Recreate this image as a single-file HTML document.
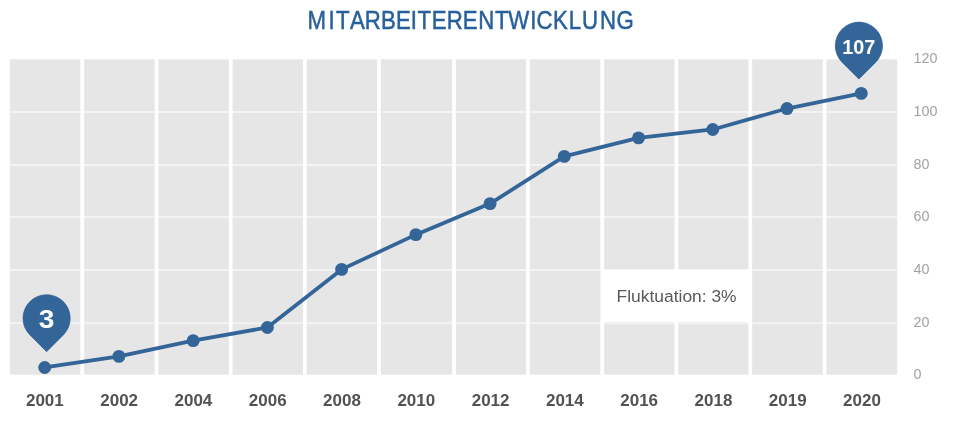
<!DOCTYPE html>
<html lang="de">
<head>
<meta charset="utf-8">
<title>Mitarbeiterentwicklung</title>
<style>
html,body{margin:0;padding:0;background:#fff;}
body{width:960px;height:426px;overflow:hidden;font-family:"Liberation Sans",sans-serif;}
svg{display:block;}
text{font-family:"Liberation Sans",sans-serif;}
</style>
</head>
<body>
<svg width="960" height="426" viewBox="0 0 960 426">
<rect x="0" y="0" width="960" height="426" fill="#ffffff"/>
<rect x="9.9" y="59.35" width="887.30" height="315.35" fill="#E6E6E6"/>
<g stroke="#F3F3F3" stroke-width="2">
<line x1="9.9" x2="897.2" y1="112" y2="112"/>
<line x1="9.9" x2="897.2" y1="165" y2="165"/>
<line x1="9.9" x2="897.2" y1="217" y2="217"/>
<line x1="9.9" x2="897.2" y1="270" y2="270"/>
<line x1="9.9" x2="897.2" y1="323.3" y2="323.3"/>
</g>
<g stroke="#ffffff" stroke-width="3.7">
<line x1="82.25" x2="82.25" y1="58.35" y2="375.7"/>
<line x1="156.5" x2="156.5" y1="58.35" y2="375.7"/>
<line x1="230.75" x2="230.75" y1="58.35" y2="375.7"/>
<line x1="304.8" x2="304.8" y1="58.35" y2="375.7"/>
<line x1="378.9" x2="378.9" y1="58.35" y2="375.7"/>
<line x1="454.0" x2="454.0" y1="58.35" y2="375.7"/>
<line x1="527.9" x2="527.9" y1="58.35" y2="375.7"/>
<line x1="602.25" x2="602.25" y1="58.35" y2="375.7"/>
<line x1="676.4" x2="676.4" y1="58.35" y2="375.7"/>
<line x1="750.3" x2="750.3" y1="58.35" y2="375.7"/>
<line x1="824.6" x2="824.6" y1="58.35" y2="375.7"/>
</g>
<rect x="602.25" y="269.7" width="148.05" height="52.2" fill="#ffffff"/>
<text x="616.6" y="301.5" font-size="16.3" fill="#595959" textLength="120" lengthAdjust="spacingAndGlyphs">Fluktuation: 3%</text>
<polyline points="44.70,367.46 118.93,356.40 193.16,340.65 267.39,327.46 341.62,269.40 415.85,234.67 490.08,203.58 564.31,156.35 638.54,137.86 712.77,129.48 787.00,108.57 861.23,93.40" fill="none" stroke="#336598" stroke-width="3.75" stroke-linejoin="round" stroke-linecap="round"/>
<g fill="#336598">
<circle cx="44.70" cy="367.46" r="6.45"/>
<circle cx="118.93" cy="356.40" r="6.45"/>
<circle cx="193.16" cy="340.65" r="6.45"/>
<circle cx="267.39" cy="327.46" r="6.45"/>
<circle cx="341.62" cy="269.40" r="6.45"/>
<circle cx="415.85" cy="234.67" r="6.45"/>
<circle cx="490.08" cy="203.58" r="6.45"/>
<circle cx="564.31" cy="156.35" r="6.45"/>
<circle cx="638.54" cy="137.86" r="6.45"/>
<circle cx="712.77" cy="129.48" r="6.45"/>
<circle cx="787.00" cy="108.57" r="6.45"/>
<circle cx="861.23" cy="93.40" r="6.45"/>
</g>
<g fill="#336598" stroke="#2C5D93" stroke-width="0.7" stroke-linejoin="round">
<path d="M29.91,334.99 A23.6,23.6 0 1 1 63.29,334.99 L46.60,351.68 Z"/>
<path d="M842.21,62.39 A23.6,23.6 0 1 1 875.59,62.39 L858.90,79.08 Z"/>
</g>
<text x="38.85" y="328.3" font-size="25.5" font-weight="bold" fill="#ffffff" textLength="15.7" lengthAdjust="spacingAndGlyphs">3</text>
<text x="858.75" y="54.1" font-size="19.8" font-weight="bold" fill="#ffffff" text-anchor="middle">107</text>
<g transform="scale(0.87,1)"><text x="353.52 377.58 386.10 402.42 419.25 438.05 455.21 472.25 479.84 496.14 513.39 532.05 549.58 569.08 584.28 609.59 616.62 635.59 653.86 669.02 689.78 708.64" y="29.0" font-size="25.5" fill="#28609A" stroke="#28609A" stroke-width="0.5">MITARBEITERENTWICKLUNG</text></g>
<g font-size="16.6" font-weight="bold" fill="#525252">
<text x="25.95" y="406" textLength="37.8" lengthAdjust="spacingAndGlyphs">2001</text>
<text x="100.24" y="406" textLength="37.8" lengthAdjust="spacingAndGlyphs">2002</text>
<text x="174.53" y="406" textLength="37.8" lengthAdjust="spacingAndGlyphs">2004</text>
<text x="248.82" y="406" textLength="37.8" lengthAdjust="spacingAndGlyphs">2006</text>
<text x="323.11" y="406" textLength="37.8" lengthAdjust="spacingAndGlyphs">2008</text>
<text x="397.40" y="406" textLength="37.8" lengthAdjust="spacingAndGlyphs">2010</text>
<text x="471.69" y="406" textLength="37.8" lengthAdjust="spacingAndGlyphs">2012</text>
<text x="545.98" y="406" textLength="37.8" lengthAdjust="spacingAndGlyphs">2014</text>
<text x="620.27" y="406" textLength="37.8" lengthAdjust="spacingAndGlyphs">2016</text>
<text x="694.56" y="406" textLength="37.8" lengthAdjust="spacingAndGlyphs">2018</text>
<text x="768.85" y="406" textLength="37.8" lengthAdjust="spacingAndGlyphs">2019</text>
<text x="843.14" y="406" textLength="37.8" lengthAdjust="spacingAndGlyphs">2020</text>
</g>
<g font-size="14.3" fill="#A2A2A2">
<text x="913.5" y="63.2">120</text>
<text x="913.5" y="116.0">100</text>
<text x="913.5" y="169.0">80</text>
<text x="913.5" y="221.0">60</text>
<text x="913.5" y="274.0">40</text>
<text x="913.5" y="327.0">20</text>
<text x="913.5" y="379.3">0</text>
</g>
</svg>
</body>
</html>
